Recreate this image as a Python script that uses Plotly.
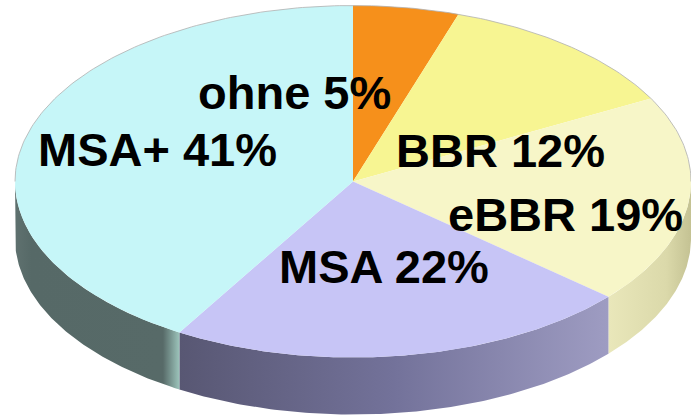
import numpy as np
import plotly.graph_objects as go

# ---- data ----
categories = ["ohne", "BBR", "eBBR", "MSA", "MSA+"]
values = [5, 12, 19, 22, 41]

# ---- styling ----
top_colors = ["#F6901B", "#F7F592", "#F7F6C8", "#C7C5F6", "#C6F6F8"]
side_colorscales = [
    [[0, "#C8761A"], [1, "#C8761A"]],
    [[0, "#D6D47A"], [1, "#D6D47A"]],
    [[0, "#E9E7BA"], [0.7, "#DBD9AA"], [1, "#C4C293"]],
    [[0, "#585773"], [0.5, "#73729A"], [1, "#9E9CC2"]],
    [[0, "#5F716F"], [0.1, "#566967"], [0.9, "#576A68"], [1, "#9CC4BB"]],
]
label_pos = [(294.5, 92), (500.5, 150), (565.5, 214), (384, 266.5), (157.5, 149)]

W, H = 691, 419
CX, CY, RX, RY, DEPTH = 353, 181.5, 338, 176, 57


def ellipse_pt(theta_deg, dy=0.0):
    t = np.radians(theta_deg)
    return CX + RX * np.sin(t), CY - RY * np.cos(t) + dy


total = float(sum(values))
bounds = np.concatenate([[0.0], np.cumsum(values) / total * 360.0])

fig = go.Figure()

# side walls (front half only: 90..270 degrees clockwise from top)
for i in range(len(values)):
    a0, a1 = max(bounds[i], 90.0), min(bounds[i + 1], 270.0)
    if a1 <= a0:
        continue
    th = np.linspace(a0, a1, 120)
    xt, yt = ellipse_pt(th)
    xb, yb = ellipse_pt(th[::-1], DEPTH)
    fig.add_trace(go.Scatter(
        x=np.concatenate([xt, xb]), y=np.concatenate([yt, yb]),
        mode="lines", fill="toself", line=dict(width=0),
        fillgradient=dict(type="horizontal", colorscale=side_colorscales[i]),
        hoverinfo="skip", showlegend=False,
    ))

# top face slices
for i in range(len(values)):
    th = np.linspace(bounds[i], bounds[i + 1], 120)
    xs, ys = ellipse_pt(th)
    fig.add_trace(go.Scatter(
        x=np.concatenate([[CX], xs, [CX]]), y=np.concatenate([[CY], ys, [CY]]),
        mode="lines", fill="toself", fillcolor=top_colors[i],
        line=dict(width=0), hoverinfo="skip", showlegend=False,
    ))

# thin outline along the back edge of the top face
th = np.linspace(-90, 90, 200)
xo, yo = ellipse_pt(th)
fig.add_trace(go.Scatter(x=xo, y=yo, mode="lines",
                         line=dict(color="#B0B0B0", width=0.8),
                         hoverinfo="skip", showlegend=False))

for (lx, ly), c, v in zip(label_pos, categories, values):
    fig.add_annotation(
        x=lx, y=ly, xref="x", yref="y", showarrow=False,
        text=f"<b>{c} {v}%</b>", xanchor="center", yanchor="middle",
        font=dict(family="Liberation Sans, Arial, sans-serif", size=47, color="#000000"),
    )

fig.update_layout(
    width=W, height=H, margin=dict(l=0, r=0, t=0, b=0),
    paper_bgcolor="white", plot_bgcolor="white", showlegend=False,
    xaxis=dict(range=[0, W], visible=False, fixedrange=True),
    yaxis=dict(range=[H, 0], visible=False, fixedrange=True),
)

fig.write_html("out.html", config={"displayModeBar": False},
               post_script="document.body.style.margin='0px';document.body.style.overflow='hidden';")
